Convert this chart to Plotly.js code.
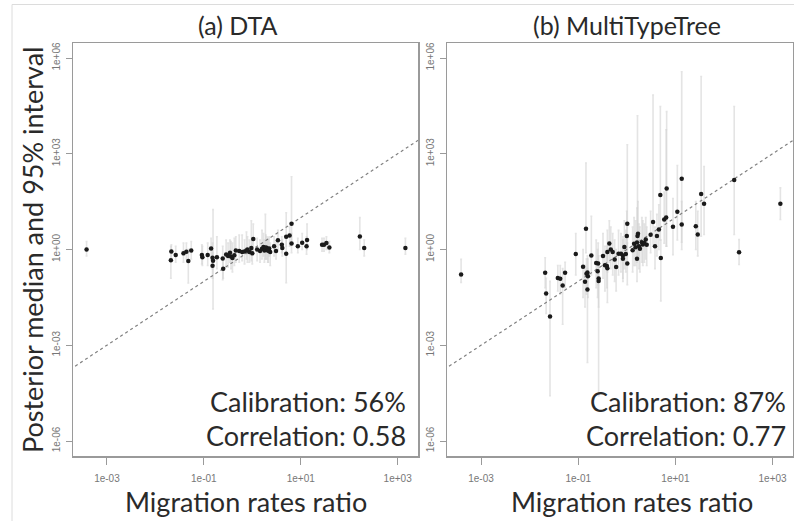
<!DOCTYPE html>
<html>
<head>
<meta charset="utf-8">
<script src="https://cdn.plot.ly/plotly-3.0.1.min.js"></script>
<style>
  html, body { margin: 0; padding: 0; background: #ffffff; }
  #chart { width: 794px; height: 521px; }
</style>
</head>
<body>
<div id="chart"></div>
<script>
// Values are log10 exponents: true migration-rate ratio, posterior median,
// and the 2.5% / 97.5% bounds of the 95% interval.

// (a) DTA
const dtaTrueExp = [-3.42, -1.67, -1.68, -1.58, -1.42, -1.36, -1.32, -1.26, -1.04, -1.03,
  -0.92, -0.85, -0.82, -0.81, -0.82, -0.73, -0.61, -0.60, -0.54, -0.46,
  -0.44, -0.41, -0.37, -0.34, -0.27, -0.21, -0.16, -0.12, -0.06, -0.02,
  0.02, 0.16, 0.20, 0.23, 0.25, 0.27, 0.30, 0.32, 0.35, 0.37,
  0.45, 0.49, 0.53, 0.61, 0.62, 0.70, 0.70, 0.77, 0.81, 0.81,
  0.94, 1.03, 1.13, 1.12, 1.44, 1.48, 1.53, 1.59, 2.22, 2.31,
  3.16, -0.50, -0.10, 0.10, 0.00, 0.28, 0.33];
const dtaMedExp = [0.00, -0.06, -0.34, -0.17, -0.12, -0.07, -0.36, -0.03, -0.17, -0.24,
  -0.17, 0.03, -0.26, -0.35, -0.51, -0.24, -0.28, -0.60, -0.16, -0.10,
  -0.22, -0.27, -0.18, -0.03, -0.05, -0.08, -0.06, -0.03, -0.08, 0.05,
  0.33, -0.05, 0.02, 0.08, -0.03, 0.00, 0.05, -0.02, 0.03, -0.08,
  0.10, -0.05, 0.29, 0.15, 0.05, -0.13, 0.40, 0.44, 0.81, 0.19,
  0.10, 0.21, 0.30, 0.10, 0.15, 0.15, 0.20, 0.06, 0.41, 0.05,
  0.05, -0.20, 0.00, 0.00, -0.12, 0.06, -0.04];
const dtaLoExp = [-0.20, -0.35, -0.90, -0.40, -0.40, -0.30, -1.05, -0.30, -0.45, -0.50,
  -0.50, -0.30, -0.60, -1.86, -0.90, -0.60, -0.95, -0.90, -0.50, -0.40,
  -0.60, -0.70, -0.50, -0.40, -0.40, -0.35, -0.45, -0.30, -0.40, -0.35,
  -0.10, -0.40, -0.30, -0.20, -0.40, -0.30, -0.30, -0.40, -0.20, -0.50,
  -0.20, -0.30, 0.00, -0.10, -0.20, -1.04, 0.10, 0.10, 0.30, -0.10,
  -0.10, 0.00, 0.00, -0.15, -0.05, -0.05, 0.00, -0.10, 0.00, -0.20,
  -0.15, -0.55, -0.40, -0.35, -0.45, -0.30, -0.40];
const dtaHiExp = [0.25, 0.15, 0.10, 0.10, 0.20, 0.20, 0.00, 0.25, 0.15, 0.10,
  0.20, 0.35, 0.20, 1.25, -0.10, 0.40, 0.10, -0.30, 0.30, 0.30,
  0.25, 0.20, 0.35, 0.40, 0.45, 0.45, 0.30, 0.55, 0.30, 0.90,
  0.80, 0.30, 0.60, 0.50, 0.30, 1.10, 0.40, 0.30, 0.40, 0.20,
  0.40, 0.30, 0.60, 0.40, 0.30, 0.40, 1.15, 0.70, 2.28, 0.50,
  0.35, 0.50, 0.80, 0.40, 0.35, 0.35, 0.40, 0.25, 1.00, 0.30,
  0.35, 0.20, 0.40, 0.35, 0.30, 0.45, 0.35];

// (b) MultiTypeTree
const mttTrueExp = [-3.41, -1.68, -1.66, -1.58, -1.42, -1.37, -1.32, -1.27, -1.05, -0.90,
  -0.86, -0.81, -0.81, -0.84, -0.83, -0.80, -0.73, -0.63, -0.59, -0.60,
  -0.58, -0.58, -0.49, -0.45, -0.41, -0.40, -0.40, -0.36, -0.33, -0.29,
  -0.25, -0.22, -0.17, -0.12, -0.08, -0.08, -0.05, -0.02, 0.00, 0.01,
  0.01, 0.12, 0.15, 0.18, 0.21, 0.22, 0.23, 0.25, 0.27, 0.21,
  0.31, 0.33, 0.36, 0.39, 0.41, 0.49, 0.54, 0.58, 0.62, 0.66,
  0.70, 0.69, 0.77, 0.81, 0.82, 0.95, 1.04, 1.13, 1.13, 1.42,
  1.46, 1.53, 1.59, 2.21, 2.31, 3.16];
const mttMedExp = [-0.78, -0.73, -1.38, -2.10, -0.89, -0.92, -1.13, -0.73, -0.14, -0.54,
  -1.01, -1.25, -0.72, 0.65, -0.76, -0.84, -0.19, -0.42, -0.44, -0.68,
  -0.91, -0.99, -0.20, -0.49, -0.52, -0.59, -0.08, 0.19, 0.00, -0.08,
  -0.31, -0.55, -0.13, -0.13, -0.19, -0.29, 0.08, -0.14, 0.42, 0.81,
  -0.44, -0.02, 0.18, 0.07, 0.22, 0.42, 0.49, 0.10, 0.02, -0.29,
  0.23, 0.16, 0.20, 0.31, 0.15, 0.46, 0.86, 0.10, 0.42, 0.63,
  -0.27, 1.71, 0.94, 1.00, 1.91, 0.71, 1.18, 0.78, 2.22, 0.73,
  0.47, 1.74, 1.43, 2.18, -0.09, 1.43];
const mttLoExp = [-1.03, -1.20, -2.00, -4.58, -1.30, -1.40, -2.34, -1.20, -0.80, -1.50,
  -1.80, -3.54, -1.30, -0.10, -1.40, -1.50, -0.80, -1.20, -1.10, -1.50,
  -4.58, -1.80, -0.90, -1.30, -1.20, -1.66, -0.70, -0.40, -0.60, -0.80,
  -1.00, -1.30, -0.80, -0.70, -0.90, -1.00, -0.60, -0.70, -0.20, 0.00,
  -1.10, -0.70, -0.50, -0.50, -0.40, -0.30, -0.20, -0.60, -0.70, -1.00,
  -0.40, -0.50, -0.40, -0.30, -0.50, -0.10, 0.10, -0.60, -0.20, 0.00,
  -1.61, 0.30, 0.20, 0.10, 0.10, -0.16, 0.30, 0.00, 0.23, 0.00,
  -0.20, 0.42, 0.47, 0.47, -0.47, 0.94];
const mttHiExp = [-0.31, -0.26, -0.90, -1.00, -0.50, -0.50, -0.60, -0.40, 0.50, 0.00,
  -0.50, -0.60, -0.20, 2.71, -0.30, -0.30, 1.04, 0.30, 0.20, 0.00,
  -0.20, -0.40, 0.50, 0.10, 0.10, 0.00, 0.60, 0.90, 0.70, 0.50,
  0.30, 0.00, 0.60, 0.50, 0.40, 0.30, 0.90, 0.60, 1.20, 3.28,
  0.20, 0.70, 1.00, 0.90, 1.30, 4.19, 1.50, 0.80, 0.70, 0.30,
  1.00, 0.90, 0.80, 1.00, 0.70, 1.20, 4.84, 0.70, 1.10, 1.40,
  0.30, 4.48, 1.80, 3.75, 4.32, 1.60, 2.63, 1.50, 5.57, 1.50,
  1.20, 5.42, 2.60, 4.48, 0.31, 1.93];

const panelTitles = ['(a) DTA', '(b) MultiTypeTree'];
const calibration = ['Calibration: 56%', 'Calibration: 87%'];
const correlation = ['Correlation: 0.58', 'Correlation: 0.77'];
const tickExp = [-6, -3, 0, 3, 6];
const xTickExp = [-3, -1, 1, 3];
const tickText = e => '1e' + (e < 0 ? '-' : '+') + String(Math.abs(e)).padStart(2, '0');

const xRangeExp = [-3.70, 3.42];
const yRangeExp = [-6.47, 6.47];

const pow10 = v => Math.pow(10, v);

function panelTraces(tE, mE, loE, hiE, xa, ya) {
  const x = tE.map(pow10), y = mE.map(pow10);
  const lo = loE.map(pow10), hi = hiE.map(pow10);
  return [
    { // 95% intervals (drawn first, light grey)
      type: 'scatter', mode: 'markers', x: x, y: y, xaxis: xa, yaxis: ya,
      marker: { size: 0.1, color: 'rgba(0,0,0,0)' },
      error_y: {
        type: 'data', symmetric: false,
        array: y.map((v, i) => hi[i] - v),
        arrayminus: y.map((v, i) => v - lo[i]),
        color: 'rgba(210,210,210,0.6)', thickness: 1.6, width: 1
      },
      hoverinfo: 'skip', showlegend: false
    },
    { // identity line
      type: 'scatter', mode: 'lines', xaxis: xa, yaxis: ya,
      x: [pow10(-5), pow10(5)], y: [pow10(-5), pow10(5)],
      line: { color: '#808080', width: 1.2, dash: 'dot' },
      hoverinfo: 'skip', showlegend: false
    },
    { // posterior medians
      type: 'scatter', mode: 'markers', x: x, y: y, xaxis: xa, yaxis: ya,
      marker: { size: 4.5, color: '#1a1a1a' },
      showlegend: false
    }
  ];
}

const data = [
  ...panelTraces(dtaTrueExp, dtaMedExp, dtaLoExp, dtaHiExp, 'x', 'y'),
  ...panelTraces(mttTrueExp, mttMedExp, mttLoExp, mttHiExp, 'x2', 'y2')
];

const W = 794, H = 521;
const boxL = [73, 447], boxR = [418, 793];
const boxTop = 43, boxBottom = 456;

function xAxis(i) {
  return {
    type: 'log', range: xRangeExp,
    domain: [boxL[i] / W, boxR[i] / W],
    anchor: i === 0 ? 'y' : 'y2',
    showgrid: false, zeroline: false,
    showline: true, mirror: true, linecolor: '#9a9a9a', linewidth: 1.5,
    ticks: 'outside', ticklen: 7, tickwidth: 1, tickcolor: '#9a9a9a',
    tickvals: xTickExp.map(pow10), ticktext: xTickExp.map(tickText),
    ticklabelstandoff: 5,
    tickfont: { family: 'Liberation Sans, Arial, sans-serif', size: 10, color: '#777' }
  };
}
function yAxis(i) {
  return {
    type: 'log', range: yRangeExp,
    domain: [1 - boxBottom / H, 1 - boxTop / H],
    anchor: i === 0 ? 'x' : 'x2',
    showgrid: false, zeroline: false,
    showline: true, mirror: true, linecolor: '#9a9a9a', linewidth: 1.5,
    ticks: 'outside', ticklen: 6, tickwidth: 1, tickcolor: '#9a9a9a',
    tickvals: tickExp.map(pow10), ticktext: tickExp.map(tickText),
    tickangle: -90, ticklabelstandoff: 2,
    tickfont: { family: 'Liberation Sans, Arial, sans-serif', size: 10, color: '#777' }
  };
}

const bigFont = (size) => ({ family: 'Lato, Open Sans, sans-serif', size: size, color: '#2a2a2a' });

const annotations = [];
const titleX = [237, 627];
const xTitleX = [246, 632];
const statRight = [408, 788];
for (let i = 0; i < 2; i++) {
  annotations.push(
    { text: panelTitles[i], xref: 'paper', yref: 'paper', x: titleX[i] / W, y: 1 - 25 / H,
      xanchor: 'center', yanchor: 'middle', showarrow: false, font: bigFont(25) },
    { text: 'Migration rates ratio', xref: 'paper', yref: 'paper', x: xTitleX[i] / W, y: 1 - 501 / H,
      xanchor: 'center', yanchor: 'middle', showarrow: false, font: bigFont(27) },
    { text: calibration[i], xref: 'paper', yref: 'paper', x: statRight[i] / W, y: 1 - 401 / H,
      xanchor: 'right', yanchor: 'middle', showarrow: false, font: bigFont(27) },
    { text: correlation[i], xref: 'paper', yref: 'paper', x: statRight[i] / W, y: 1 - 435 / H,
      xanchor: 'right', yanchor: 'middle', showarrow: false, font: bigFont(27) }
  );
}
annotations.push({
  text: 'Posterior median and 95% interval', xref: 'paper', yref: 'paper',
  x: 32 / W, y: 1 - 250 / H, xanchor: 'center', yanchor: 'middle', textangle: -90,
  showarrow: false, font: bigFont(27)
});

const layout = {
  width: W, height: H,
  margin: { l: 0, r: 0, t: 0, b: 0 },
  paper_bgcolor: '#ffffff', plot_bgcolor: '#ffffff',
  showlegend: false,
  xaxis: xAxis(0), yaxis: yAxis(0),
  xaxis2: xAxis(1), yaxis2: yAxis(1),
  annotations: annotations,
  shapes: [
    { type: 'line', xref: 'paper', yref: 'paper', x0: 12 / W, x1: 1, y0: 1 - 4.5 / H, y1: 1 - 4.5 / H,
      line: { color: '#dcdcdc', width: 1 } },
    { type: 'line', xref: 'paper', yref: 'paper', x0: 12 / W, x1: 12 / W, y0: 0, y1: 1 - 4.5 / H,
      line: { color: '#dcdcdc', width: 1 } }
  ]
};

Plotly.newPlot('chart', data, layout, { staticPlot: true, displayModeBar: false });
</script>
</body>
</html>
